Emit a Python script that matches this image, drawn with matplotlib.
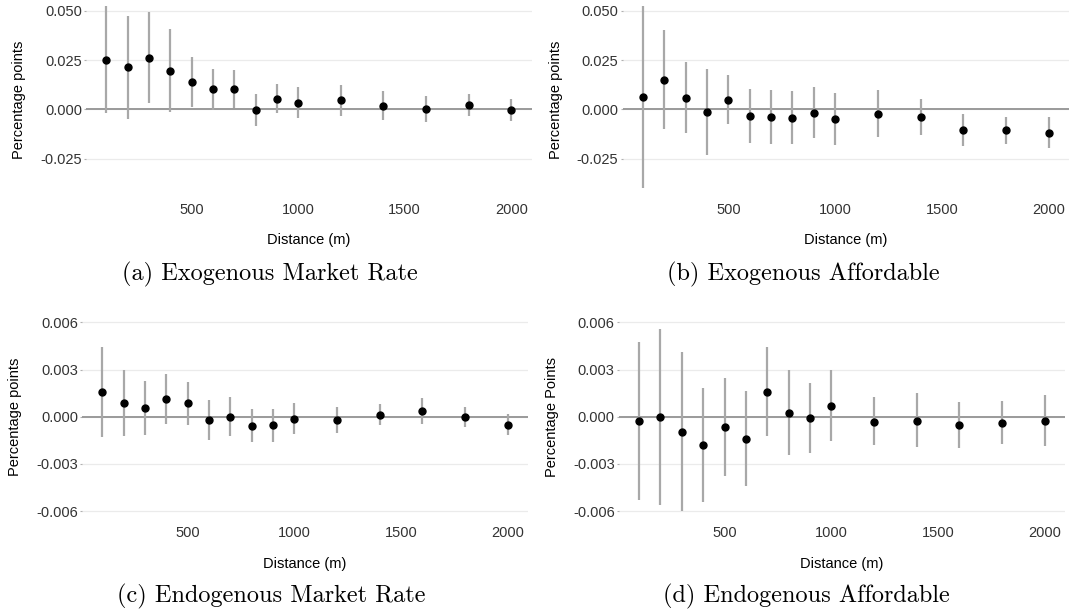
import matplotlib
matplotlib.use('Agg')
import matplotlib.pyplot as plt
from matplotlib.ticker import StrMethodFormatter

plt.rcParams['font.family'] = ['Liberation Sans', 'DejaVu Sans']
plt.rcParams['axes.unicode_minus'] = False

distance = [100, 200, 300, 400, 500, 600, 700, 800, 900, 1000, 1200, 1400, 1600, 1800, 2000]

# (a) Exogenous Market Rate
exo_mr_est = [0.0251, 0.0214, 0.0259, 0.0195, 0.0139, 0.0103, 0.0103, -0.0003, 0.0054, 0.0032,
              0.0046, 0.0019, 0.0003, 0.0020, -0.0002]
exo_mr_hi = [0.0525, 0.0475, 0.0492, 0.0408, 0.0263, 0.0207, 0.0200, 0.0078, 0.0129, 0.0112,
             0.0122, 0.0095, 0.0068, 0.0076, 0.0054]
exo_mr_lo = [-0.0020, -0.0047, 0.0031, -0.0014, 0.0012, -0.0003, 0.0007, -0.0085, -0.0020, -0.0044,
             -0.0032, -0.0053, -0.0063, -0.0034, -0.0061]

# (b) Exogenous Affordable
exo_af_est = [0.0061, 0.0149, 0.0058, -0.0014, 0.0049, -0.0034, -0.0041, -0.0044, -0.0017, -0.0051,
              -0.0022, -0.0041, -0.0105, -0.0107, -0.0119]
exo_af_hi = [0.0525, 0.0400, 0.0241, 0.0205, 0.0175, 0.0102, 0.0097, 0.0093, 0.0112, 0.0085,
             0.0098, 0.0053, -0.0024, -0.0039, -0.0039]
exo_af_lo = [-0.0398, -0.0100, -0.0122, -0.0232, -0.0075, -0.0170, -0.0176, -0.0178, -0.0144, -0.0181,
             -0.0139, -0.0131, -0.0185, -0.0175, -0.0198]

# (c) Endogenous Market Rate
endo_mr_est = [0.00155, 0.00087, 0.00055, 0.00114, 0.00085, -0.00023, 0.00000, -0.00057, -0.00055, -0.00013,
               -0.00021, 0.00013, 0.00036, -0.00004, -0.00055]
endo_mr_hi = [0.00441, 0.00297, 0.00227, 0.00271, 0.00220, 0.00108, 0.00125, 0.00049, 0.00051, 0.00087,
              0.00064, 0.00078, 0.00119, 0.00062, 0.00017]
endo_mr_lo = [-0.00129, -0.00121, -0.00114, -0.00047, -0.00053, -0.00151, -0.00123, -0.00161, -0.00161, -0.00110,
              -0.00102, -0.00051, -0.00047, -0.00064, -0.00117]

# (d) Endogenous Affordable
endo_af_est = [-0.00030, 0.00000, -0.00095, -0.00180, -0.00068, -0.00142, 0.00159, 0.00025, -0.00011, 0.00070,
               -0.00032, -0.00025, -0.00051, -0.00038, -0.00025]
endo_af_hi = [0.00473, 0.00558, 0.00409, 0.00182, 0.00244, 0.00163, 0.00445, 0.00297, 0.00216, 0.00299,
              0.00125, 0.00148, 0.00093, 0.00100, 0.00138]
endo_af_lo = [-0.00530, -0.00560, -0.00600, -0.00543, -0.00375, -0.00441, -0.00121, -0.00242, -0.00231, -0.00157,
              -0.00180, -0.00195, -0.00197, -0.00174, -0.00187]

captions = ['(a) Exogenous Market Rate', '(b) Exogenous Affordable',
            '(c) Endogenous Market Rate', '(d) Endogenous Affordable']
ylabels = ['Percentage points', 'Percentage points', 'Percentage points', 'Percentage Points']
top_ticks = [-0.025, 0.0, 0.025, 0.05]
bottom_ticks = [-0.006, -0.003, 0.0, 0.003, 0.006]

panels = [
    (exo_mr_est, exo_mr_lo, exo_mr_hi, [0.0806, 0.679, 0.4166, 0.318], (-0.0445, 0.0545), top_ticks),
    (exo_af_est, exo_af_lo, exo_af_hi, [0.5824, 0.679, 0.4176, 0.318], (-0.0445, 0.0545), top_ticks),
    (endo_mr_est, endo_mr_lo, endo_mr_hi, [0.0768, 0.1523, 0.4170, 0.3381], (-0.0066, 0.0066), bottom_ticks),
    (endo_af_est, endo_af_lo, endo_af_hi, [0.5789, 0.1523, 0.4174, 0.3381], (-0.0066, 0.0066), bottom_ticks),
]
caption_pos = [(270, 274), (803, 274), (271, 596), (806, 596)]

fig = plt.figure(figsize=(10.69, 6.14), dpi=100)

for i, (est, lo, hi, rect, ylim, yticks) in enumerate(panels):
    ax = fig.add_axes(rect)
    ax.vlines(distance, lo, hi, color='#a8a8a8', linewidth=1.6, zorder=2)
    ax.axhline(0, color='#9a9a9a', linewidth=1.4, zorder=1)
    ax.plot(distance, est, 'o', color='black', markersize=5, zorder=3)
    ax.set_xlim(5, 2095)
    ax.set_ylim(*ylim)
    ax.set_xticks([500, 1000, 1500, 2000])
    ax.set_yticks(yticks)
    ax.yaxis.set_major_formatter(StrMethodFormatter('{x:.3f}'))
    ax.grid(axis='y', color='#ebebeb', linewidth=0.9)
    ax.set_axisbelow(True)
    for s in ax.spines.values():
        s.set_visible(False)
    ax.tick_params(axis='x', length=0, pad=4, labelsize=10.5, labelcolor='#333333')
    ax.tick_params(axis='y', length=1.8, width=0.8, color='#b0b0b0', pad=1.2, labelsize=10.5,
                   labelcolor='#333333')
    ax.set_xlabel('Distance (m)', fontsize=10.5, labelpad=12)
    ax.set_ylabel(ylabels[i], fontsize=10.5, labelpad=10)
    cx, cy = caption_pos[i]
    fig.text(cx / 1069, 1 - cy / 614, captions[i], fontfamily='cmr10', fontsize=17.5,
             ha='center', va='center')

plt.savefig('out.png', dpi=100)
plt.close()
